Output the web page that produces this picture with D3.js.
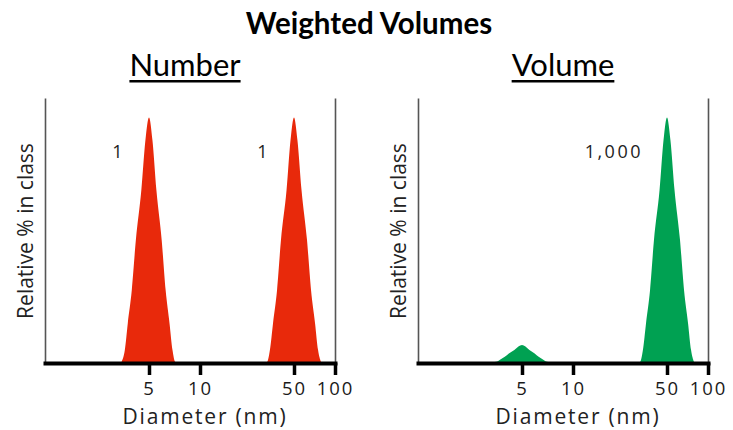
<!DOCTYPE html>
<html>
<head>
<meta charset="utf-8">
<script src="https://cdn.jsdelivr.net/npm/d3@7"></script>
<style>
  body { margin: 0; background: #fff; }
  svg { display: block; }
</style>
</head>
<body>
<svg id="chart" width="733" height="430"></svg>
<script>
// Diameters (nm) read along both peaks, shared by the two panels
const diameters = [
  3.27, 3.44, 3.60, 3.83, 4.08, 4.44, 4.73, 5, 5.24, 5.53, 5.94, 6.27, 6.61, 6.88, 7.16,
  31.5, 33.1, 34.9, 37.4, 40.0, 44.0, 47.1, 50, 53.0, 56.8, 62.3, 66.7, 71.4, 75.1, 79.0
];
// Relative % in class, number weighted
const numberPct = [
  0, 4.9, 15.8, 29.4, 49.9, 70.3, 90.7, 100, 90.7, 70.3, 49.9, 29.4, 15.8, 4.9, 0,
  0, 4.9, 15.8, 29.4, 49.9, 70.3, 90.7, 100, 90.7, 70.3, 49.9, 29.4, 15.8, 4.9, 0
];
// Relative % in class, volume weighted
const volumePct = [
  0, 0.3, 1.1, 2.1, 3.5, 4.9, 6.3, 7, 6.3, 4.9, 3.5, 2.1, 1.1, 0.3, 0,
  0, 4.9, 15.8, 29.4, 49.9, 70.3, 90.7, 100, 90.7, 70.3, 49.9, 29.4, 15.8, 4.9, 0
];
const tickValues = [5, 10, 50, 100];
const peakDiameters = [5, 50];
const numberLabels = ["1", "1"];
const volumeLabels = ["", "1,000"];

const panels = [
  { title: "Number", values: numberPct, labels: numberLabels, color: "#e8290b", left: 45, headX: 140 },
  { title: "Volume", values: volumePct, labels: volumeLabels, color: "#00a152", left: 418, headX: 145 }
];

const svg = d3.select("#chart");
const TOP = 98, BOTTOM = 362, W = 290;

svg.append("text")
  .attr("x", 369).attr("y", 34)
  .attr("text-anchor", "middle")
  .style("font-family", "Lato, sans-serif")
  .style("font-weight", "bold")
  .style("font-size", "29.5px")
  .text("Weighted Volumes");

// hand drawn log axis: keep tick spacing of the original
const x = d3.scaleLog()
  .domain([1, 5, 10, 50, 100])
  .range([0, 104, 155, 249, W]);

const y = d3.scaleLinear().domain([0, 108]).range([BOTTOM, TOP]);

panels.forEach((p) => {
  const g = svg.append("g").attr("transform", `translate(${p.left},0)`);
  const rows = diameters.map((d, i) => ({ d: d, v: p.values[i] }));

  // panel heading, underlined
  const head = g.append("text")
    .attr("x", p.headX).attr("y", 76)
    .attr("text-anchor", "middle")
    .style("font-family", "Lato, sans-serif")
    .style("font-size", "31px")
    .text(p.title);
  const tw = head.node().getComputedTextLength();
  g.append("line")
    .attr("x1", p.headX - tw / 2).attr("x2", p.headX + tw / 2)
    .attr("y1", 81.3).attr("y2", 81.3)
    .attr("stroke", "#000").attr("stroke-width", 2.6);

  // distribution
  const area = d3.area()
    .x((r) => x(r.d))
    .y0(y(0))
    .y1((r) => y(r.v))
    .curve(d3.curveMonotoneX);
  g.append("path").datum(rows).attr("d", area).attr("fill", p.color);

  // left and right frame lines
  const yl = g.append("g").call(d3.axisLeft(y).tickValues([]).tickSizeOuter(0));
  const yr = g.append("g").attr("transform", `translate(${W},0)`)
    .call(d3.axisRight(y).tickValues([]).tickSizeOuter(0));
  [yl, yr].forEach((a) => a.select(".domain").attr("stroke", "#555").attr("stroke-width", 1.6));

  // bottom axis
  const xa = g.append("g")
    .attr("transform", `translate(0,${BOTTOM + 1})`)
    .call(d3.axisBottom(x)
      .tickValues(tickValues)
      .tickFormat(d3.format("d"))
      .tickSize(12)
      .tickSizeOuter(0)
      .tickPadding(7));
  xa.select(".domain").attr("stroke", "#000").attr("stroke-width", 4).attr("stroke-linecap", "square");
  xa.selectAll(".tick line").attr("stroke", "#000").attr("stroke-width", 3.5);
  xa.selectAll(".tick text")
    .attr("fill", "#1a1a1a")
    .style("font-family", "'Open Sans', sans-serif")
    .style("font-size", "18.5px")
    .style("letter-spacing", "2px");

  g.append("text")
    .attr("x", 160).attr("y", 423.5)
    .attr("text-anchor", "middle")
    .attr("fill", "#222")
    .style("font-family", "'Open Sans', sans-serif")
    .style("font-size", "21px")
    .style("letter-spacing", "1.8px")
    .text("Diameter (nm)");

  g.append("text")
    .attr("transform", "translate(-12,231) rotate(-90)")
    .attr("text-anchor", "middle")
    .attr("fill", "#222")
    .style("font-family", "'Open Sans', sans-serif")
    .style("font-size", "21px")
    .text("Relative % in class");

  // peak weights
  g.selectAll(".peak")
    .data(peakDiameters)
    .join("text")
    .attr("class", "peak")
    .attr("x", (d) => x(d) - 24)
    .attr("y", 158)
    .attr("text-anchor", "end")
    .attr("fill", "#222")
    .style("font-family", "'Open Sans', sans-serif")
    .style("font-size", "18px")
    .style("letter-spacing", "2.5px")
    .text((d, i) => p.labels[i]);
});
</script>
</body>
</html>
